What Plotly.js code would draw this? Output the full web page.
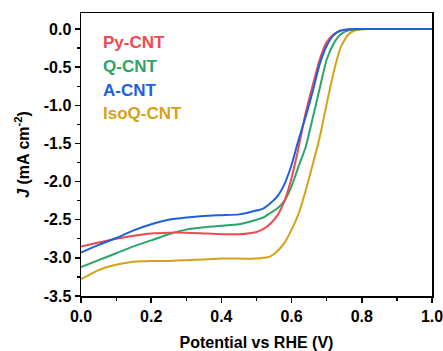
<!DOCTYPE html>
<html><head><meta charset="utf-8">
<script src="https://cdn.plot.ly/plotly-3.0.1.min.js"></script>
<style>body{margin:0;background:#fff}#c{width:443px;height:351px}</style>
</head><body><div id="c"></div>
<script>
const potential = [0, 0.05, 0.1, 0.15, 0.2, 0.25, 0.3, 0.35, 0.4, 0.45, 0.5, 0.52, 0.54, 0.56, 0.58, 0.60, 0.62, 0.64, 0.66, 0.68, 0.70, 0.72, 0.74, 0.76, 0.78, 0.80, 0.82, 0.85, 0.9, 0.95, 1.0];
const pyCNT   = [-2.85,-2.80,-2.75,-2.71,-2.68,-2.67,-2.67,-2.68,-2.69,-2.69,-2.66,-2.62,-2.55,-2.44,-2.25,-1.95,-1.55,-1.10,-0.74,-0.40,-0.17,-0.07,-0.02,-0.005,0,0,0,0,0,0,0];
const qCNT    = [-3.12,-3.03,-2.94,-2.85,-2.77,-2.69,-2.63,-2.60,-2.58,-2.56,-2.50,-2.47,-2.41,-2.35,-2.25,-2.06,-1.80,-1.55,-1.17,-0.78,-0.40,-0.19,-0.07,-0.02,-0.005,0,0,0,0,0,0];
const aCNT    = [-2.93,-2.83,-2.74,-2.64,-2.56,-2.50,-2.47,-2.45,-2.44,-2.43,-2.38,-2.35,-2.28,-2.19,-2.03,-1.78,-1.45,-1.15,-0.82,-0.46,-0.22,-0.08,-0.02,-0.005,0,0,0,0,0,0,0];
const isoqCNT = [-3.28,-3.16,-3.09,-3.05,-3.04,-3.04,-3.03,-3.02,-3.01,-3.01,-3.01,-3.00,-2.98,-2.91,-2.80,-2.63,-2.42,-2.12,-1.78,-1.42,-0.98,-0.56,-0.24,-0.08,-0.02,-0.005,0,0,0,0,0];
const names  = ['Py-CNT','Q-CNT','A-CNT','IsoQ-CNT'];
const colors = ['#ee4a4f','#2aa468','#1e60dc','#d4a216'];
const series = [pyCNT, qCNT, aCNT, isoqCNT];
const order = [3,1,0,2];
const traces = order.map(i => ({x: potential, y: series[i], type:'scatter', mode:'lines', name: names[i],
  line:{color: colors[i], width:2, shape:'spline', smoothing:0.5}}));
const labelY = [-0.18,-0.49,-0.80,-1.11];
const ann = names.map((n,i)=>({x:0.057, y:labelY[i], xref:'x', yref:'y', xanchor:'left', yanchor:'middle',
  text:'<b>'+n+'</b>', showarrow:false, font:{family:'Liberation Sans, Arial, sans-serif', size:17, color:colors[i]}}));
const tf = {family:'Liberation Sans, Arial, sans-serif', size:16, color:'#000'};
Plotly.newPlot('c', traces, {
  width:443, height:351, margin:{l:81, r:11, t:13, b:55},
  paper_bgcolor:'#fff', plot_bgcolor:'#fff', showlegend:false,
  font: tf,
  xaxis:{range:[0,1], tickvals:[0,0.2,0.4,0.6,0.8,1.0], ticktext:['<b>0.0</b>','<b>0.2</b>','<b>0.4</b>','<b>0.6</b>','<b>0.8</b>','<b>1.0</b>'],
    ticks:'outside', ticklen:5, tickwidth:1.5, tickcolor:'#000', showgrid:false, zeroline:false,
    showline:true, linecolor:'#000', linewidth:1.5, mirror:true, tickfont:tf, ticklabeloverflow:'allow',
    minor:{dtick:0.1, ticks:'outside', ticklen:3, tickwidth:1.2, tickcolor:'#000'},
    title:{text:'<b>Potential vs RHE (V)</b>', font:{family:'Liberation Sans, Arial, sans-serif', size:16}, standoff:13}},
  yaxis:{range:[-3.5,0.21], tickvals:[0,-0.5,-1,-1.5,-2,-2.5,-3,-3.5], ticktext:['<b>0.0</b>','<b>-0.5</b>','<b>-1.0</b>','<b>-1.5</b>','<b>-2.0</b>','<b>-2.5</b>','<b>-3.0</b>','<b>-3.5</b>'],
    ticks:'outside', ticklen:5, tickwidth:1.5, tickcolor:'#000', showgrid:false, zeroline:false,
    showline:true, linecolor:'#000', linewidth:1.5, mirror:true, tickfont:tf, ticklabeloverflow:'allow',
    minor:{dtick:0.25, ticks:'outside', ticklen:3, tickwidth:1.2, tickcolor:'#000'},
    title:{text:'<b><i>J</i> (mA cm<sup>-2</sup>)</b>', font:{family:'Liberation Sans, Arial, sans-serif', size:16}, standoff:10}},
  annotations: ann
}, {staticPlot:true});
</script></body></html>
